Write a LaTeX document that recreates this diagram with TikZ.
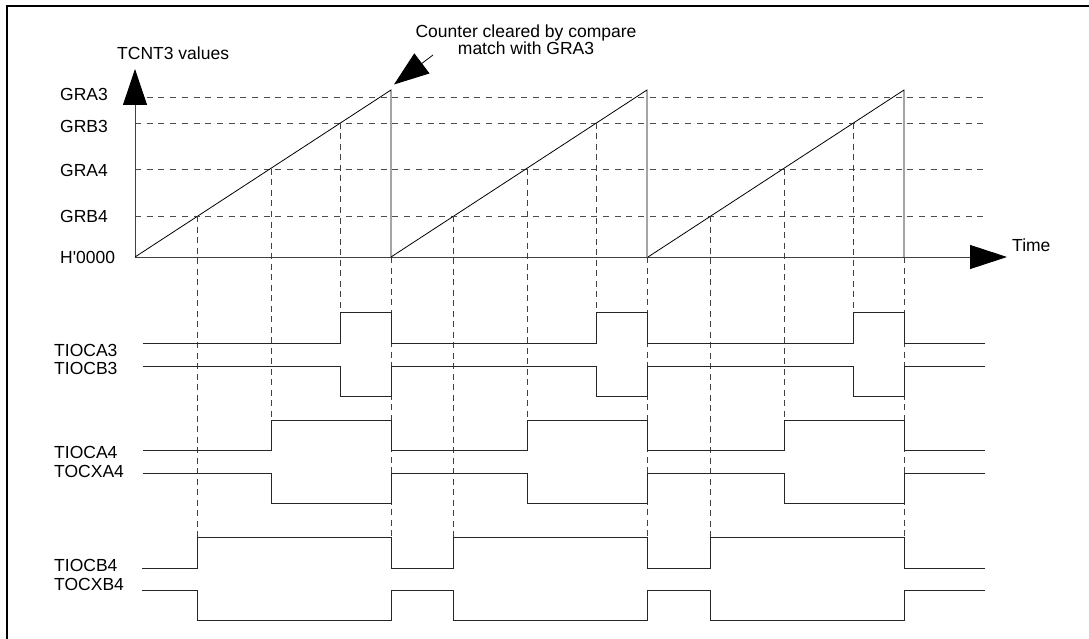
\documentclass[tikz,border=0pt]{standalone}
\usepackage{fontspec}
\setmainfont{Liberation Sans}[Ligatures=TeXOff]
\usetikzlibrary{arrows.meta}
\begin{document}
\begin{tikzpicture}[x=1pt,y=-1pt,
  lbl/.style={inner sep=0pt,anchor=base west,font=\fontsize{17.5}{21}\selectfont},
  sig/.style={line width=0.9pt,black!85},
  guide/.style={line width=0.9pt,black!70,dash pattern=on 6pt off 5.7pt},
  vguide/.style={line width=0.8pt,black!75,dash pattern=on 6pt off 4.5pt},
  axis/.style={line width=0.9pt,black!75},
  bigtip/.style={-{Triangle[length=36pt,width=24pt,color=black,fill=black]}}]
\useasboundingbox (0,0) rectangle (1089,639);
% frame (top and left edges)
\draw[line width=2.2pt] (1089,6) -- (7,6) -- (7,639);
% named reference points
\coordinate (O) at (135,257);
\coordinate (Ytip) at (135,69);
\coordinate (Xtip) at (1007,257);
% horizontal guide lines
\foreach \y in {97,123,169,216} \draw[guide] (135,\y) -- (985,\y);
% axes
\draw[axis,bigtip] (O) -- (Ytip);
\draw[axis,-{Triangle[length=37pt,width=24pt,color=black,fill=black]}] (O) -- (Xtip);
% sawtooth and vertical guides
\foreach \o in {0,256,513}{
  \draw[line width=0.8pt] (135+\o,257) -- (391+\o,90) -- (391+\o,257);
  \draw[vguide] (197+\o,216) -- (197+\o,537);
  \draw[vguide] (271+\o,169) -- (271+\o,420);
  \draw[vguide] (340+\o,123) -- (340+\o,312);
  \draw[vguide] (391+\o,257) -- (391+\o,537);
}
% axis labels
\node[lbl] (lA3) at (60,100.7) {GRA3};
\node[lbl] (lB3) at (60,132.7) {GRB3};
\node[lbl] (lA4) at (60,176.7) {GRA4};
\node[lbl] (lB4) at (60,222.7) {GRB4};
\node[lbl] (l0)  at (60,263) {H'0000};
\node[lbl] (ly)  at (117,60) {TCNT3 values};
\node[lbl] (lt)  at (1012,251) {Time};
\node[lbl,anchor=base] (c1) at (526,38) {Counter cleared by compare};
\node[lbl,anchor=base] (c2) at (526,55) {match with GRA3};
\coordinate (ctail) at (433,55);
\coordinate (ctip) at (394,84.5);
\draw[line width=0.8pt,-{Triangle[length=35pt,width=25pt]}] (ctail) -- (ctip);
% waveforms
\draw[sig] (143,343) \foreach \o in {0,256,513}{ -- (340+\o,343) -- (340+\o,312) -- (391+\o,312) -- (391+\o,343)} -- (985,343);
\draw[sig] (143,366) \foreach \o in {0,256,513}{ -- (340+\o,366) -- (340+\o,396) -- (391+\o,396) -- (391+\o,366)} -- (985,366);
\draw[sig] (143,450) \foreach \o in {0,256,513}{ -- (271+\o,450) -- (271+\o,420) -- (391+\o,420) -- (391+\o,450)} -- (985,450);
\draw[sig] (143,473) \foreach \o in {0,256,513}{ -- (271+\o,473) -- (271+\o,503) -- (391+\o,503) -- (391+\o,473)} -- (985,473);
\draw[sig] (142,568) \foreach \o in {0,256,513}{ -- (197+\o,568) -- (197+\o,537) -- (391+\o,537) -- (391+\o,568)} -- (985,568);
\draw[sig] (142,590) \foreach \o in {0,256,513}{ -- (197+\o,590) -- (197+\o,620) -- (391+\o,620) -- (391+\o,590)} -- (985,590);
% signal labels
\node[lbl] (sA3) at (54,356) {TIOCA3};
\node[lbl] (sB3) at (54,374.3) {TIOCB3};
\node[lbl] (sA4) at (54,458) {TIOCA4};
\node[lbl] (sX4) at (54,477.7) {TOCXA4};
\node[lbl] (sB4) at (54,571) {TIOCB4};
\node[lbl] (sXB4) at (54,590) {TOCXB4};
\end{tikzpicture}
\end{document}
